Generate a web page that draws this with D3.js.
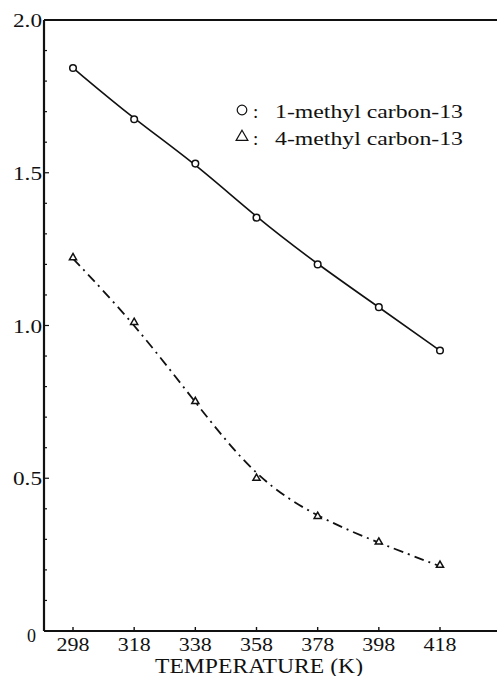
<!DOCTYPE html>
<html><head><meta charset="utf-8">
<script src="https://cdn.jsdelivr.net/npm/d3@7"></script>
<style>body{margin:0;background:#fff}svg{display:block}</style>
</head><body><svg id="c" width="497" height="676"></svg>
<script>
const temps = [298, 318, 338, 358, 378, 398, 418];
const methyl1 = [1.843, 1.675, 1.530, 1.353, 1.200, 1.060, 0.918];
const methyl4 = [1.219, 1.007, 0.748, 0.497, 0.372, 0.288, 0.212];
const yTicks = [0, 0.5, 1.0, 1.5, 2.0];
const yTickLabels = ["0", "0.5", "1.0", "1.5", "2.0"];
const legendLabels = ["1-methyl carbon-13", "4-methyl carbon-13"];
const xTitle = "TEMPERATURE (K)";

const FONT = "Liberation Serif, Times New Roman, serif";
const svg = d3.select("#c").attr("font-family", FONT);
const x = d3.scaleLinear().domain([298, 418]).range([73, 440]);
const y = d3.scaleLinear().domain([0, 2]).range([631, 20]);
const xL = x.invert(44), xR = x.invert(497);

const g = svg.append("g");
g.append("line").attr("x1", x(xL)).attr("x2", x(xL)).attr("y1", y(2)).attr("y2", y(0)).attr("stroke", "#111").attr("stroke-width", 2.2);
g.append("line").attr("x1", x(xL)).attr("x2", x(xR)).attr("y1", y(0)).attr("y2", y(0)).attr("stroke", "#111").attr("stroke-width", 2.2);
g.append("line").attr("x1", x(xL)).attr("x2", x(xR)).attr("y1", y(2)).attr("y2", y(2)).attr("stroke", "#111").attr("stroke-width", 2);

const minor = d3.range(1, 20).map(i => i / 10);
g.selectAll(".ym").data(minor).join("line")
  .attr("x1", x(xL)).attr("x2", d => x(xL) + (Math.abs(d * 2 - Math.round(d * 2)) < 1e-6 ? 5 : 3))
  .attr("y1", d => y(d)).attr("y2", d => y(d)).attr("stroke", "#111").attr("stroke-width", 1.2);

g.selectAll(".yl").data(yTicks).join("text")
  .attr("font-family", FONT).attr("fill", "#111")
  .attr("x", d => d === 0 ? 36 : 42).attr("y", d => y(d) + (d === 0 ? 11 : 7))
  .attr("text-anchor", "end").attr("font-size", 19)
  .attr("textLength", (d, i) => yTickLabels[i].length === 1 ? 9 : 29).attr("lengthAdjust", "spacingAndGlyphs")
  .text((d, i) => yTickLabels[i]);

g.selectAll(".xt").data(temps).join("line")
  .attr("x1", d => x(d)).attr("x2", d => x(d)).attr("y1", y(0)).attr("y2", y(0) - 4)
  .attr("stroke", "#111").attr("stroke-width", 1.4);
g.selectAll(".xl").data(temps).join("text")
  .attr("font-family", FONT).attr("fill", "#111")
  .attr("x", d => x(d)).attr("y", 651).attr("text-anchor", "middle").attr("font-size", 19)
  .attr("textLength", 33).attr("lengthAdjust", "spacingAndGlyphs")
  .text(d => d);
g.append("text").attr("font-family", FONT).attr("fill", "#111")
  .attr("x", 259).attr("y", 673).attr("text-anchor", "middle").attr("font-size", 20)
  .attr("textLength", 208).attr("lengthAdjust", "spacingAndGlyphs").text(xTitle);

const s1 = temps.map((t, i) => [t, methyl1[i]]);
const s2 = temps.map((t, i) => [t, methyl4[i]]);
const line = d3.line().x(d => x(d[0])).y(d => y(d[1])).curve(d3.curveBasis);
g.append("path").attr("d", line(s1)).attr("fill", "none").attr("stroke", "#111").attr("stroke-width", 1.6);
g.append("path").attr("d", line(s2)).attr("fill", "none").attr("stroke", "#111").attr("stroke-width", 1.8)
  .attr("stroke-dasharray", "10,5,2,5");

g.selectAll(".c1").data(s1).join("circle")
  .attr("cx", d => x(d[0])).attr("cy", d => y(d[1])).attr("r", 3.3)
  .attr("fill", "#fff").attr("stroke", "#111").attr("stroke-width", 1.5);
const tri = d3.symbol().type(d3.symbolTriangle).size(22);
g.selectAll(".t2").data(s2).join("path")
  .attr("d", tri).attr("transform", d => `translate(${x(d[0])},${y(d[1]) - 1})`)
  .attr("fill", "#fff").attr("stroke", "#111").attr("stroke-width", 1.5);

const lg = svg.append("g");
lg.append("circle").attr("cx", 242).attr("cy", 110).attr("r", 4.8).attr("fill", "none").attr("stroke", "#111").attr("stroke-width", 1.2);
lg.append("path").attr("d", d3.symbol().type(d3.symbolTriangle).size(60)).attr("transform", "translate(242,137)")
  .attr("fill", "none").attr("stroke", "#111").attr("stroke-width", 1.2);
legendLabels.forEach((t, i) => {
  const by = 118 + i * 27;
  lg.append("text").attr("font-family", FONT).attr("fill", "#111").attr("x", 253).attr("y", by).attr("font-size", 19).text(":");
  lg.append("text").attr("font-family", FONT).attr("fill", "#111").attr("x", 275).attr("y", by).attr("font-size", 19)
    .attr("textLength", 188).attr("lengthAdjust", "spacingAndGlyphs").text(t);
});
</script></body></html>
